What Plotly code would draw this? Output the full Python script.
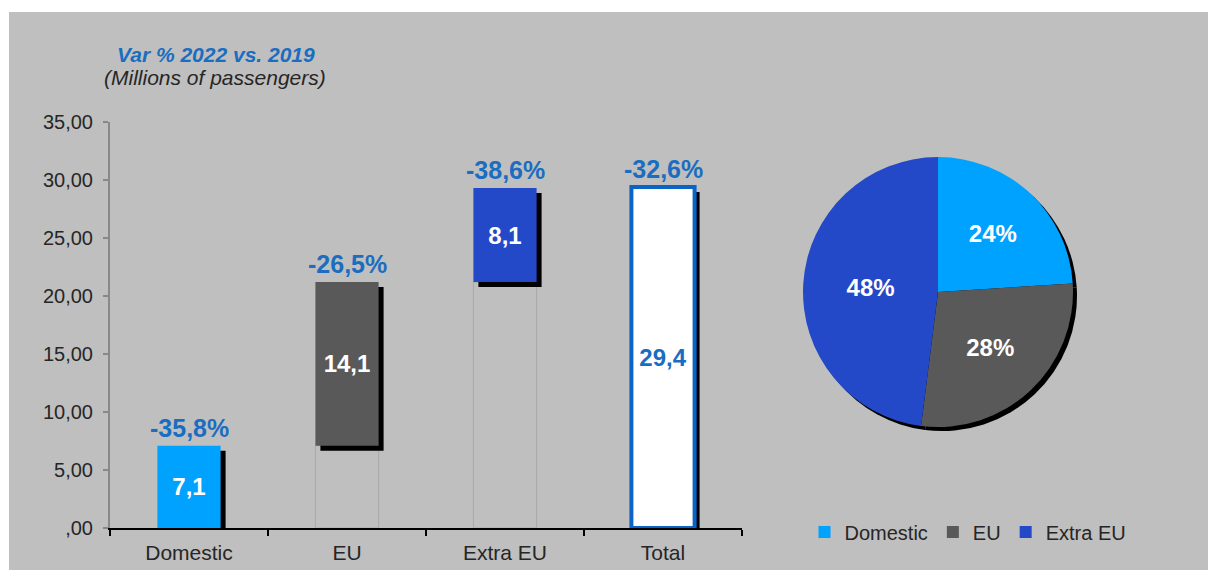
import plotly.graph_objects as go

# ---------------- data ----------------
categories = ["Domestic", "EU", "Extra EU", "Total"]
values = [7.1, 14.1, 8.1, 29.4]
var_labels = ["-35,8%", "-26,5%", "-38,6%", "-32,6%"]
y_ticks = [0, 5, 10, 15, 20, 25, 30, 35]
y_tick_labels = [",00", "5,00", "10,00", "15,00", "20,00", "25,00", "30,00", "35,00"]
pie_labels = ["Domestic", "EU", "Extra EU"]
pie_values = [24, 28, 48]

# waterfall bases: the three segments stack, the total starts at zero
bases = [0, values[0], values[0] + values[1], 0]
tops = [b + v for b, v in zip(bases, values)]
value_text = [f"{v:.1f}".replace(".", ",") for v in values]

# ---------------- style ----------------
W, H = 1208, 570
FONT = "Liberation Sans, Arial, sans-serif"
BG = "#bfbfbf"
TXT = "#262626"
BLUE_TXT = "#1a6dc0"
bar_colors = ["#00a2ff", "#595959", "#2449c8", "#ffffff"]
bar_line_colors = ["#00a2ff", "#595959", "#2449c8", "#0a64c8"]
bar_line_widths = [0, 0, 0, 4]
inside_text_colors = ["#ffffff", "#ffffff", "#ffffff", BLUE_TXT]
pie_colors = ["#00a2ff", "#595959", "#2449c8"]

# plot area in pixels
PL, PR, PT, PB = 110, 742, 122, 528
BAR_W = 0.4
cat_px = (PR - PL) / 4.0
unit_px = (PB - PT) / 35.0
sh_dx = 5 / cat_px          # shadow offset (category units)
sh_dy = 5 / unit_px         # shadow offset (data units)

fig = go.Figure()

# faint outline of the invisible waterfall base
fig.add_trace(go.Bar(
    x=categories[1:3], y=bases[1:3], base=0,
    width=BAR_W, offset=-BAR_W / 2,
    marker=dict(color="rgba(0,0,0,0)", line=dict(color="#a8a8a8", width=1)),
    showlegend=False, hoverinfo="skip",
))

# drop shadows
fig.add_trace(go.Bar(
    x=categories, y=values, base=[b - sh_dy for b in bases],
    width=BAR_W, offset=-BAR_W / 2 + sh_dx,
    marker=dict(color="#000000", line=dict(width=0)),
    showlegend=False, hoverinfo="skip",
))

# main bars
fig.add_trace(go.Bar(
    x=categories, y=values, base=bases,
    width=BAR_W, offset=-BAR_W / 2,
    marker=dict(color=bar_colors, line=dict(color=bar_line_colors, width=bar_line_widths)),
    text=value_text, textposition="inside", insidetextanchor="middle", textangle=0,
    textfont=dict(family=FONT, size=24, color=inside_text_colors, weight="bold"),
    showlegend=False, hoverinfo="skip",
))

# pie shadow
pie_cx, pie_cy, pie_r = 938, 292, 135
def pie_domain(dx=0, dy=0):
    return dict(
        x=[(pie_cx - pie_r + dx) / W, (pie_cx + pie_r + dx) / W],
        y=[1 - (pie_cy + pie_r + dy) / H, 1 - (pie_cy - pie_r + dy) / H],
    )

fig.add_trace(go.Pie(
    labels=["s1", "s2", "s3"], values=pie_values, domain=pie_domain(4, 4),
    marker=dict(colors=["#000000"] * 3, line=dict(width=0)),
    textinfo="none", sort=False, direction="clockwise", rotation=0,
    showlegend=False, hoverinfo="skip", automargin=False,
))

fig.add_trace(go.Pie(
    labels=pie_labels, values=pie_values, domain=pie_domain(),
    marker=dict(colors=pie_colors, line=dict(width=0)),
    texttemplate="%{percent:.0%}", textposition="inside",
    insidetextorientation="horizontal",
    textfont=dict(family=FONT, size=24, color="#ffffff", weight="bold"),
    sort=False, direction="clockwise", rotation=0,
    showlegend=True, hoverinfo="label+percent", automargin=False,
))

annotations = [
    dict(x=c, y=t, xref="x", yref="y", text=lab, showarrow=False,
         yanchor="bottom", yshift=2,
         font=dict(family=FONT, size=25, color=BLUE_TXT, weight="bold"))
    for c, t, lab in zip(categories, tops, var_labels)
]
annotations += [
    dict(x=216 / W, y=1 - 55 / H, xref="paper", yref="paper",
         text="<b><i>Var % 2022 vs. 2019</i></b>", showarrow=False,
         xanchor="center", yanchor="middle",
         font=dict(family=FONT, size=21, color=BLUE_TXT)),
    dict(x=215 / W, y=1 - 78 / H, xref="paper", yref="paper",
         text="<i>(Millions of passengers)</i>", showarrow=False,
         xanchor="center", yanchor="middle",
         font=dict(family=FONT, size=21, color=TXT)),
]

fig.update_layout(
    width=W, height=H, autosize=False,
    margin=dict(l=0, r=0, t=0, b=0, pad=0, autoexpand=False),
    paper_bgcolor="#ffffff",
    plot_bgcolor="rgba(0,0,0,0)",
    barmode="overlay",
    font=dict(family=FONT, size=20, color=TXT),
    shapes=[dict(type="rect", xref="paper", yref="paper",
                 x0=9 / W, x1=1, y0=0, y1=1 - 12 / H,
                 fillcolor=BG, line=dict(width=0), layer="below")],
    annotations=annotations,
    xaxis=dict(
        domain=[PL / W, PR / W], type="category", range=[-0.5, 3.5],
        categoryorder="array", categoryarray=categories,
        showline=True, linecolor="#000000", linewidth=2,
        ticks="outside", tickson="boundaries", ticklen=6, tickcolor="#000000", tickwidth=2,
        ticklabelstandoff=5, automargin=False,
        showgrid=False, zeroline=False, fixedrange=True,
        tickfont=dict(family=FONT, size=21, color=TXT),
    ),
    yaxis=dict(
        domain=[1 - PB / H, 1 - PT / H], range=[0, 35],
        tickvals=y_ticks, ticktext=y_tick_labels,
        showline=True, linecolor="#888888", linewidth=2,
        ticks="outside", ticklen=5, tickcolor="#888888", tickwidth=1.5,
        ticklabelstandoff=6, automargin=False,
        showgrid=False, zeroline=False, fixedrange=True,
        tickfont=dict(family=FONT, size=20, color=TXT),
    ),
    legend=dict(
        orientation="h", x=968 / W, y=1 - 532 / H, xanchor="center", yanchor="middle",
        font=dict(family=FONT, size=20, color=TXT), bgcolor="rgba(0,0,0,0)",
        itemwidth=30,
    ),
)

fig.write_html(
    "out.html",
    config={"displayModeBar": False, "responsive": False, "staticPlot": True},
    post_script="document.body.style.margin='0';document.body.style.overflow='hidden';",
)
